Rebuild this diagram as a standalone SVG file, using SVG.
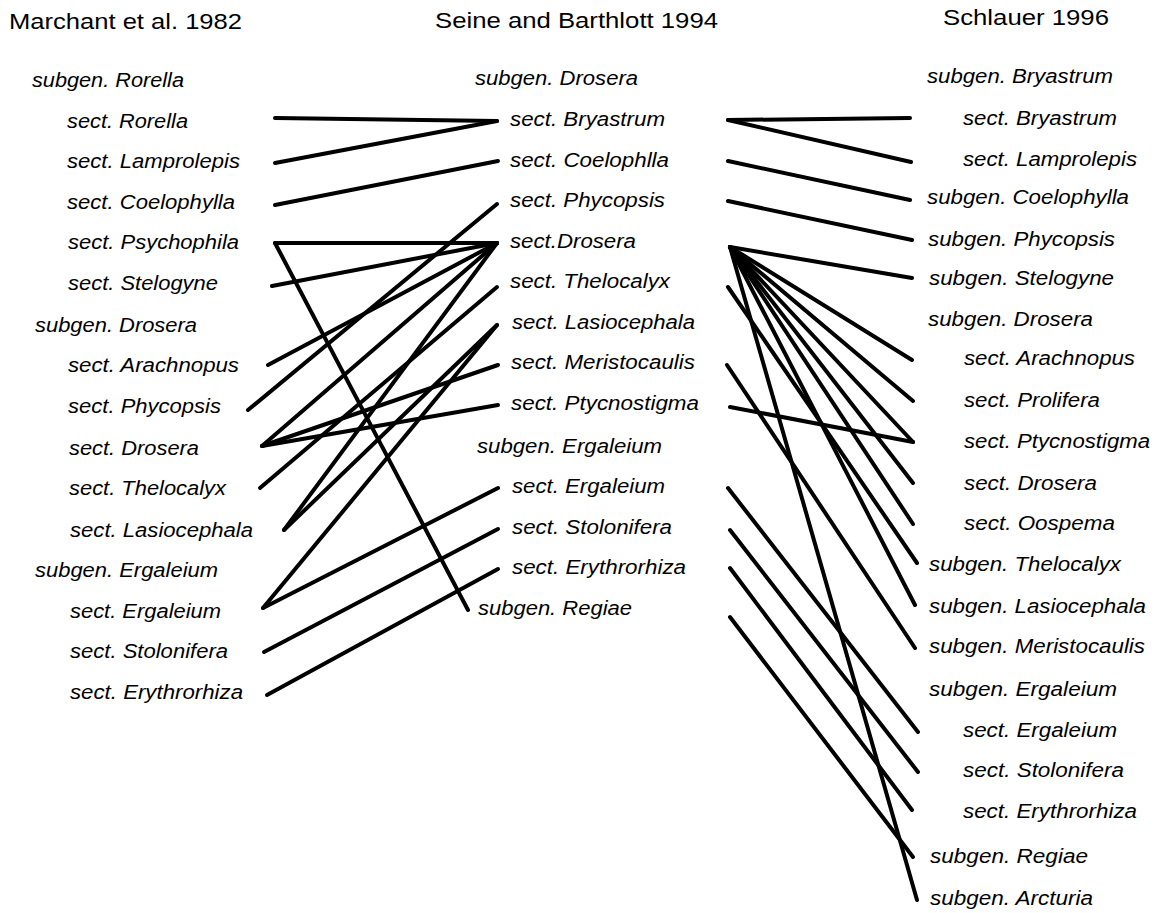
<svg xmlns="http://www.w3.org/2000/svg" width="1169" height="913" viewBox="0 0 1169 913">
<style>
text{font-family:"Liberation Sans",Arial,sans-serif;fill:#000}
.t{font-size:22px}
.l{font-size:20.5px;font-style:italic}
.c line{stroke:#000;stroke-width:4;stroke-linecap:round}
</style>
<rect width="1169" height="913" fill="#fff"/>
<g id="titles">
<text class="t" x="9" y="29" textLength="233" lengthAdjust="spacingAndGlyphs">Marchant et al. 1982</text>
<text class="t" x="435" y="28" textLength="283" lengthAdjust="spacingAndGlyphs">Seine and Barthlott 1994</text>
<text class="t" x="943" y="25" textLength="166" lengthAdjust="spacingAndGlyphs">Schlauer 1996</text>
</g>
<g id="col-marchant">
<g id="m-subgen-rorella"><text class="l" x="32" y="87" textLength="152" lengthAdjust="spacingAndGlyphs">subgen. Rorella</text></g>
<g id="m-rorella"><text class="l" x="67" y="128" textLength="121" lengthAdjust="spacingAndGlyphs">sect. Rorella</text></g>
<g id="m-lamprolepis"><text class="l" x="67" y="168" textLength="173" lengthAdjust="spacingAndGlyphs">sect. Lamprolepis</text></g>
<g id="m-coelophylla"><text class="l" x="67" y="209" textLength="168" lengthAdjust="spacingAndGlyphs">sect. Coelophylla</text></g>
<g id="m-psychophila"><text class="l" x="68" y="249" textLength="171" lengthAdjust="spacingAndGlyphs">sect. Psychophila</text></g>
<g id="m-stelogyne"><text class="l" x="68" y="290" textLength="150" lengthAdjust="spacingAndGlyphs">sect. Stelogyne</text></g>
<g id="m-subgen-drosera"><text class="l" x="35" y="332" textLength="162" lengthAdjust="spacingAndGlyphs">subgen. Drosera</text></g>
<g id="m-arachnopus"><text class="l" x="68" y="372" textLength="171" lengthAdjust="spacingAndGlyphs">sect. Arachnopus</text></g>
<g id="m-phycopsis"><text class="l" x="68" y="413" textLength="153" lengthAdjust="spacingAndGlyphs">sect. Phycopsis</text></g>
<g id="m-drosera"><text class="l" x="69" y="455" textLength="130" lengthAdjust="spacingAndGlyphs">sect. Drosera</text></g>
<g id="m-thelocalyx"><text class="l" x="69" y="495" textLength="157" lengthAdjust="spacingAndGlyphs">sect. Thelocalyx</text></g>
<g id="m-lasiocephala"><text class="l" x="70" y="537" textLength="183" lengthAdjust="spacingAndGlyphs">sect. Lasiocephala</text></g>
<g id="m-subgen-ergaleium"><text class="l" x="35" y="577" textLength="183" lengthAdjust="spacingAndGlyphs">subgen. Ergaleium</text></g>
<g id="m-ergaleium"><text class="l" x="70" y="618" textLength="151" lengthAdjust="spacingAndGlyphs">sect. Ergaleium</text></g>
<g id="m-stolonifera"><text class="l" x="70" y="658" textLength="158" lengthAdjust="spacingAndGlyphs">sect. Stolonifera</text></g>
<g id="m-erythrorhiza"><text class="l" x="70" y="699" textLength="173" lengthAdjust="spacingAndGlyphs">sect. Erythrorhiza</text></g>
</g>
<g id="col-seine">
<g id="s-subgen-drosera"><text class="l" x="475" y="85" textLength="163" lengthAdjust="spacingAndGlyphs">subgen. Drosera</text></g>
<g id="s-bryastrum"><text class="l" x="510" y="126" textLength="155" lengthAdjust="spacingAndGlyphs">sect. Bryastrum</text></g>
<g id="s-coelophlla"><text class="l" x="510" y="167" textLength="159" lengthAdjust="spacingAndGlyphs">sect. Coelophlla</text></g>
<g id="s-phycopsis"><text class="l" x="510" y="207" textLength="155" lengthAdjust="spacingAndGlyphs">sect. Phycopsis</text></g>
<g id="s-drosera"><text class="l" x="510" y="248" textLength="126" lengthAdjust="spacingAndGlyphs">sect.Drosera</text></g>
<g id="s-thelocalyx"><text class="l" x="510" y="288" textLength="160" lengthAdjust="spacingAndGlyphs">sect. Thelocalyx</text></g>
<g id="s-lasiocephala"><text class="l" x="512" y="329" textLength="183" lengthAdjust="spacingAndGlyphs">sect. Lasiocephala</text></g>
<g id="s-meristocaulis"><text class="l" x="511" y="369" textLength="184" lengthAdjust="spacingAndGlyphs">sect. Meristocaulis</text></g>
<g id="s-ptycnostigma"><text class="l" x="511" y="410" textLength="188" lengthAdjust="spacingAndGlyphs">sect. Ptycnostigma</text></g>
<g id="s-subgen-ergaleium"><text class="l" x="477" y="453" textLength="185" lengthAdjust="spacingAndGlyphs">subgen. Ergaleium</text></g>
<g id="s-ergaleium"><text class="l" x="512" y="493" textLength="153" lengthAdjust="spacingAndGlyphs">sect. Ergaleium</text></g>
<g id="s-stolonifera"><text class="l" x="512" y="534" textLength="160" lengthAdjust="spacingAndGlyphs">sect. Stolonifera</text></g>
<g id="s-erythrorhiza"><text class="l" x="512" y="574" textLength="174" lengthAdjust="spacingAndGlyphs">sect. Erythrorhiza</text></g>
<g id="s-subgen-regiae"><text class="l" x="478" y="615" textLength="154" lengthAdjust="spacingAndGlyphs">subgen. Regiae</text></g>
</g>
<g id="col-schlauer">
<g id="r-subgen-bryastrum"><text class="l" x="927" y="83" textLength="186" lengthAdjust="spacingAndGlyphs">subgen. Bryastrum</text></g>
<g id="r-bryastrum"><text class="l" x="963" y="125" textLength="154" lengthAdjust="spacingAndGlyphs">sect. Bryastrum</text></g>
<g id="r-lamprolepis"><text class="l" x="963" y="166" textLength="174" lengthAdjust="spacingAndGlyphs">sect. Lamprolepis</text></g>
<g id="r-subgen-coelophylla"><text class="l" x="927" y="204" textLength="202" lengthAdjust="spacingAndGlyphs">subgen. Coelophylla</text></g>
<g id="r-subgen-phycopsis"><text class="l" x="928" y="246" textLength="187" lengthAdjust="spacingAndGlyphs">subgen. Phycopsis</text></g>
<g id="r-subgen-stelogyne"><text class="l" x="929" y="285" textLength="185" lengthAdjust="spacingAndGlyphs">subgen. Stelogyne</text></g>
<g id="r-subgen-drosera"><text class="l" x="928" y="326" textLength="165" lengthAdjust="spacingAndGlyphs">subgen. Drosera</text></g>
<g id="r-arachnopus"><text class="l" x="964" y="365" textLength="171" lengthAdjust="spacingAndGlyphs">sect. Arachnopus</text></g>
<g id="r-prolifera"><text class="l" x="964" y="407" textLength="136" lengthAdjust="spacingAndGlyphs">sect. Prolifera</text></g>
<g id="r-ptycnostigma"><text class="l" x="964" y="448" textLength="186" lengthAdjust="spacingAndGlyphs">sect. Ptycnostigma</text></g>
<g id="r-drosera"><text class="l" x="964" y="490" textLength="133" lengthAdjust="spacingAndGlyphs">sect. Drosera</text></g>
<g id="r-oospema"><text class="l" x="964" y="530" textLength="151" lengthAdjust="spacingAndGlyphs">sect. Oospema</text></g>
<g id="r-subgen-thelocalyx"><text class="l" x="929" y="571" textLength="192" lengthAdjust="spacingAndGlyphs">subgen. Thelocalyx</text></g>
<g id="r-subgen-lasiocephala"><text class="l" x="929" y="613" textLength="217" lengthAdjust="spacingAndGlyphs">subgen. Lasiocephala</text></g>
<g id="r-subgen-meristocaulis"><text class="l" x="929" y="653" textLength="216" lengthAdjust="spacingAndGlyphs">subgen. Meristocaulis</text></g>
<g id="r-subgen-ergaleium"><text class="l" x="929" y="696" textLength="188" lengthAdjust="spacingAndGlyphs">subgen. Ergaleium</text></g>
<g id="r-ergaleium"><text class="l" x="963" y="737" textLength="154" lengthAdjust="spacingAndGlyphs">sect. Ergaleium</text></g>
<g id="r-stolonifera"><text class="l" x="963" y="777" textLength="161" lengthAdjust="spacingAndGlyphs">sect. Stolonifera</text></g>
<g id="r-erythrorhiza"><text class="l" x="963" y="818" textLength="174" lengthAdjust="spacingAndGlyphs">sect. Erythrorhiza</text></g>
<g id="r-subgen-regiae"><text class="l" x="930" y="863" textLength="158" lengthAdjust="spacingAndGlyphs">subgen. Regiae</text></g>
<g id="r-subgen-arcturia"><text class="l" x="930" y="905" textLength="163" lengthAdjust="spacingAndGlyphs">subgen. Arcturia</text></g>
</g>
<g id="connectors" class="c">
<line x1="275" y1="118" x2="497" y2="121"/>
<line x1="275" y1="163" x2="497" y2="121"/>
<line x1="275" y1="205" x2="498" y2="161"/>
<line x1="275" y1="243" x2="497" y2="243"/>
<line x1="275" y1="243" x2="468" y2="610"/>
<line x1="272" y1="286" x2="497" y2="243"/>
<line x1="268" y1="365" x2="497" y2="243"/>
<line x1="248" y1="410" x2="497" y2="204"/>
<line x1="262" y1="446" x2="497" y2="243"/>
<line x1="262" y1="446" x2="498" y2="365"/>
<line x1="262" y1="446" x2="498" y2="405"/>
<line x1="260" y1="488" x2="497" y2="287"/>
<line x1="284" y1="530" x2="497" y2="243"/>
<line x1="284" y1="530" x2="497" y2="325"/>
<line x1="263" y1="608" x2="497" y2="325"/>
<line x1="263" y1="608" x2="498" y2="488"/>
<line x1="264" y1="652" x2="498" y2="529"/>
<line x1="267" y1="695" x2="498" y2="569"/>
<line x1="728" y1="120" x2="910" y2="118"/>
<line x1="728" y1="120" x2="911" y2="162"/>
<line x1="728" y1="161" x2="910" y2="200"/>
<line x1="728" y1="201" x2="912" y2="240"/>
<line x1="730" y1="247" x2="912" y2="278"/>
<line x1="730" y1="247" x2="912" y2="360"/>
<line x1="730" y1="247" x2="913" y2="401"/>
<line x1="730" y1="247" x2="913" y2="442"/>
<line x1="730" y1="247" x2="913" y2="483"/>
<line x1="730" y1="247" x2="913" y2="524"/>
<line x1="730" y1="247" x2="915" y2="605"/>
<line x1="730" y1="247" x2="917" y2="900"/>
<line x1="728" y1="287" x2="917" y2="563"/>
<line x1="727" y1="365" x2="915" y2="648"/>
<line x1="730" y1="407" x2="913" y2="442"/>
<line x1="728" y1="488" x2="918" y2="732"/>
<line x1="730" y1="530" x2="918" y2="772"/>
<line x1="730" y1="568" x2="912" y2="810"/>
<line x1="730" y1="617" x2="913" y2="857"/>
</g>
</svg>
